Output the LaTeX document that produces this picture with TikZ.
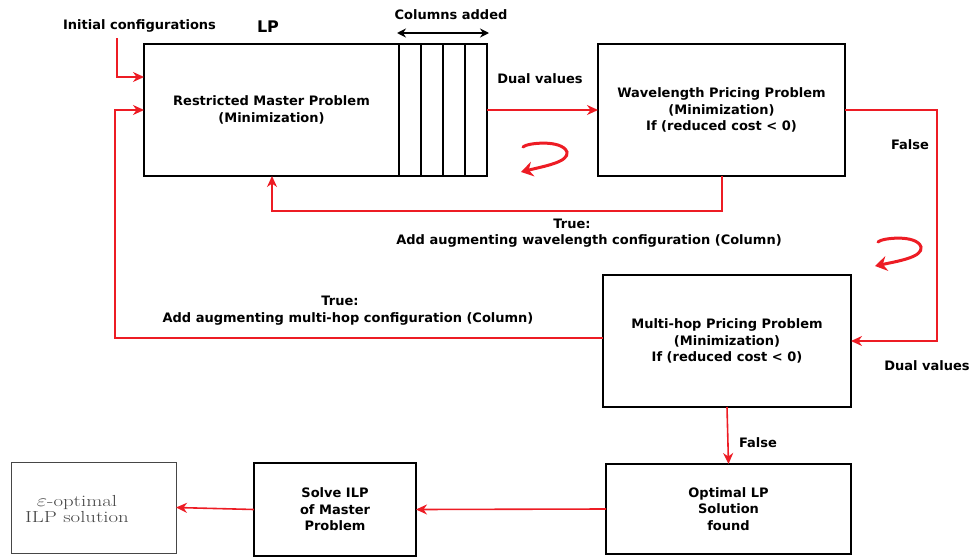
\documentclass[tikz,border=0pt]{standalone}
\usepackage{fontspec}
\newfontfamily\labelfont{DejaVu Sans}
\usetikzlibrary{arrows.meta,calc}
\definecolor{flowred}{RGB}{237,28,36}
\definecolor{softgray}{RGB}{70,70,70}
\begin{document}
\begin{tikzpicture}[x=1pt,y=-1pt,
  every node/.style={inner sep=0pt,outer sep=0pt},
  txt/.style={font=\labelfont\bfseries\fontsize{13}{16.5}\selectfont,align=center},
  procbox/.style={draw=black,line width=1.6pt,rectangle,
    font=\labelfont\bfseries\fontsize{13}{16.5}\selectfont,align=center},
  colcell/.style={draw=black,line width=1.6pt,rectangle,minimum width=22pt,minimum height=132pt},
  flow/.style={draw=flowred,line width=1.6pt,-{Stealth[length=11pt,width=10pt,inset=3.5pt]}},
  curl/.style={draw=flowred,line width=3pt,line cap=round,-{Stealth[length=12pt,width=15pt,inset=4pt]}},
  span/.style={draw=black,line width=1.5pt,{Stealth[length=9pt,width=9pt,inset=3pt]}-{Stealth[length=9pt,width=9pt,inset=3pt]}}]
\useasboundingbox (0,0) rectangle (972,557);

% restricted master problem and the added columns
\node[procbox,minimum width=255pt,minimum height=132pt] (rmp) at (271.5,110)
  {Restricted Master Problem\\(Minimization)};
\node[colcell] (c1) at (410,110) {};
\node[colcell] (c2) at (432,110) {};
\node[colcell] (c3) at (454,110) {};
\node[colcell] (c4) at (476,110) {};

% pricing problems
\node[procbox,minimum width=247pt,minimum height=132pt] (wpp) at (721.5,110)
  {Wavelength Pricing Problem\\(Minimization)\\If (reduced cost < 0)};
\node[procbox,minimum width=248pt,minimum height=132pt] (mh) at (727,341)
  {Multi-hop Pricing Problem\\(Minimization)\\If (reduced cost < 0)};

% final stage
\node[procbox,minimum width=245pt,minimum height=90pt] (opt) at (728.5,509)
  {Optimal LP\\Solution\\found};
\node[procbox,minimum width=162pt,minimum height=93pt] (solve) at (335,509.5)
  {Solve ILP\\of Master\\Problem};
\node[draw=softgray,line width=1pt,rectangle,minimum width=165pt,minimum height=91pt] (eps) at (93.5,507.5) {};
\node[text=softgray,align=center,font=\fontsize{16}{16}\selectfont] (epstext) at (77,509)
  {\scalebox{1.3}[1]{$\varepsilon$-optimal}\\\scalebox{1.3}[1]{ILP solution}};

% labels
\node[txt,anchor=base] (initlbl) at (139.5,29) {Initial configurations};
\node[anchor=base,font=\labelfont\bfseries\fontsize{16}{18}\selectfont] (lplbl) at (268,32) {LP};
\node[txt,anchor=base] (collbl) at (451,19.5) {Columns added};
\node[txt,anchor=base] (dual1) at (540,83) {Dual values};
\node[txt,anchor=base] (false1) at (910,149) {False};
\node[txt,anchor=base] (true1) at (572,228) {True:};
\node[txt,anchor=base] (add1) at (589,244) {Add augmenting wavelength configuration (Column)};
\node[txt,anchor=base] (true2) at (340,305) {True:};
\node[txt,anchor=base] (add2) at (348,322) {Add augmenting multi-hop configuration (Column)};
\node[txt,anchor=base] (dual2) at (927,370) {Dual values};
\node[txt,anchor=base] (false2) at (758,447) {False};

% helper points for the routed connectors
\coordinate (initstart) at (117,38);
\coordinate (lft) at (115,0);
\coordinate (rgt) at (937,0);
\coordinate (spanl) at (397,33);
\coordinate (spanr) at (489,33);

% connectors
\draw[span] (spanl) -- (spanr);
\draw[flow] (initstart) |- ([yshift=33pt]rmp.west);
\draw[flow] ([yshift=3pt]mh.west) -- ([yshift=3pt]mh.west -| lft) |- (rmp.west);
\draw[flow] (c4.east) -- (wpp.west);
\draw[flow] ([xshift=0.5pt]wpp.south) -- ++(0,35) -| ([xshift=0.5pt]rmp.south);
\draw[flow] (wpp.east) -- (wpp.east -| rgt) |- (mh.east);
\draw[flow] (mh.south) -- (opt.north);
\draw[flow] (opt.west) -- (solve.east);
\draw[flow] (solve.west) -- (eps.east);

% iteration marks
\draw[curl] (523,147) .. controls (526,143) and (562,139) .. (567,152)
  .. controls (569,162) and (545,166) .. (521,172);
\draw[curl] (878,242) .. controls (881,238) and (917,234) .. (921,247)
  .. controls (923,257) and (899,261) .. (875,266);
\end{tikzpicture}
\end{document}
